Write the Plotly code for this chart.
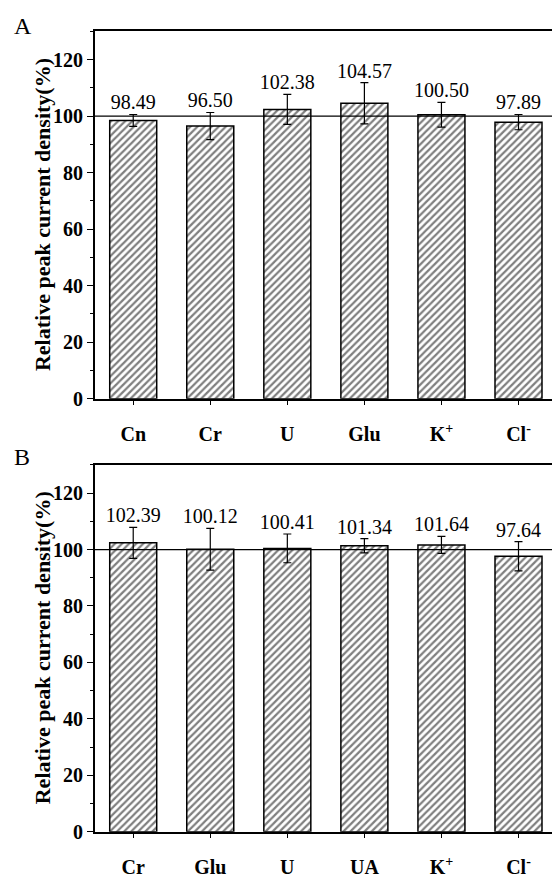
import plotly.graph_objects as go

# panel A data
cats_a = ["Cn", "Cr", "U", "Glu", "K<sup>+</sup>", "Cl<sup>-</sup>"]
vals_a = [98.49, 96.50, 102.38, 104.57, 100.50, 97.89]
err_a = [2.1, 4.8, 5.3, 7.3, 4.4, 2.7]

# panel B data
cats_b = ["Cr", "Glu", "U", "UA", "K<sup>+</sup>", "Cl<sup>-</sup>"]
vals_b = [102.39, 100.12, 100.41, 101.34, 101.64, 97.64]
err_b = [5.5, 7.4, 5.1, 2.5, 3.0, 5.2]

y_ticks = [0, 20, 40, 60, 80, 100, 120]

SERIF = "Liberation Serif, Times New Roman, serif"

fig = go.Figure()


def add_panel(cats, vals, errs, xa, ya):
    fig.add_trace(go.Bar(
        x=cats, y=vals, xaxis=xa, yaxis=ya,
        marker=dict(color="white",
                    line=dict(color="black", width=1.5),
                    pattern=dict(shape="/", size=5, solidity=0.45,
                                 fgcolor="black", bgcolor="white")),
        error_y=dict(type="data", array=errs, color="black",
                     thickness=1.2, width=4),
        showlegend=False,
    ))
    # value labels above the error bars
    fig.add_trace(go.Scatter(
        x=cats, y=[v + e for v, e in zip(vals, errs)],
        xaxis=xa, yaxis=ya, mode="text",
        text=[f"{v:.2f}" for v in vals],
        textposition="top center",
        textfont=dict(family=SERIF, size=20, color="black"),
        showlegend=False,
    ))


add_panel(cats_a, vals_a, err_a, "x", "y")
add_panel(cats_b, vals_b, err_b, "x2", "y2")

xdom = [0.1548, 0.9804]
xcommon = dict(
    domain=xdom, range=[-0.5, 5.5], showline=True, linecolor="black",
    linewidth=1.5, mirror=True, ticks="outside", ticklen=5,
    tickcolor="black", showgrid=False, ticklabelstandoff=12,
    tickfont=dict(family=SERIF, size=20, color="black", weight="bold"),
)
ycommon = dict(
    range=[0, 130], tickvals=y_ticks, showline=True, linecolor="black",
    linewidth=1.5, mirror=True, ticks="outside", ticklen=6,
    tickcolor="black", showgrid=False, zeroline=False,
    minor=dict(tickvals=[10, 30, 50, 70, 90, 110, 130], ticklen=3,
               ticks="outside", tickcolor="black"),
    tickfont=dict(family=SERIF, size=20, color="black", weight="bold"),
)

fig.update_layout(
    width=560, height=881,
    margin=dict(l=0, r=0, t=0, b=0),
    paper_bgcolor="white", plot_bgcolor="white",
    bargap=0.39,
    xaxis=dict(**xcommon, anchor="y"),
    yaxis=dict(**ycommon, domain=[0.5509, 0.9731], anchor="x"),
    xaxis2=dict(**xcommon, anchor="y2"),
    yaxis2=dict(**ycommon, domain=[0.0533, 0.4748], anchor="x2"),
)

# 100 % reference lines
for ya in ["y", "y2"]:
    fig.add_shape(type="line", xref="x domain" if ya == "y" else "x2 domain",
                  yref=ya, x0=0, x1=1, y0=100, y1=100,
                  line=dict(color="black", width=1.2))

# y-axis titles
for ymid in [(0.5509 + 0.9731) / 2, (0.0533 + 0.4748) / 2]:
    fig.add_annotation(
        text="<b>Relative peak current density(%)</b>",
        x=34 / 560, y=ymid, xref="paper", yref="paper",
        xanchor="center", yanchor="middle",
        textangle=-90, showarrow=False,
        font=dict(family=SERIF, size=22, color="black"),
    )

# panel letters
fig.add_annotation(text="A", x=4 / 560, y=1 - 18 / 881, xref="paper",
                   yref="paper", xanchor="left", yanchor="middle",
                   showarrow=False,
                   font=dict(family=SERIF, size=24, color="black"))
fig.add_annotation(text="B", x=4 / 560, y=1 - 455 / 881, xref="paper",
                   yref="paper", xanchor="left", yanchor="middle",
                   showarrow=False,
                   font=dict(family=SERIF, size=24, color="black"))

fig.write_html("out.html")
